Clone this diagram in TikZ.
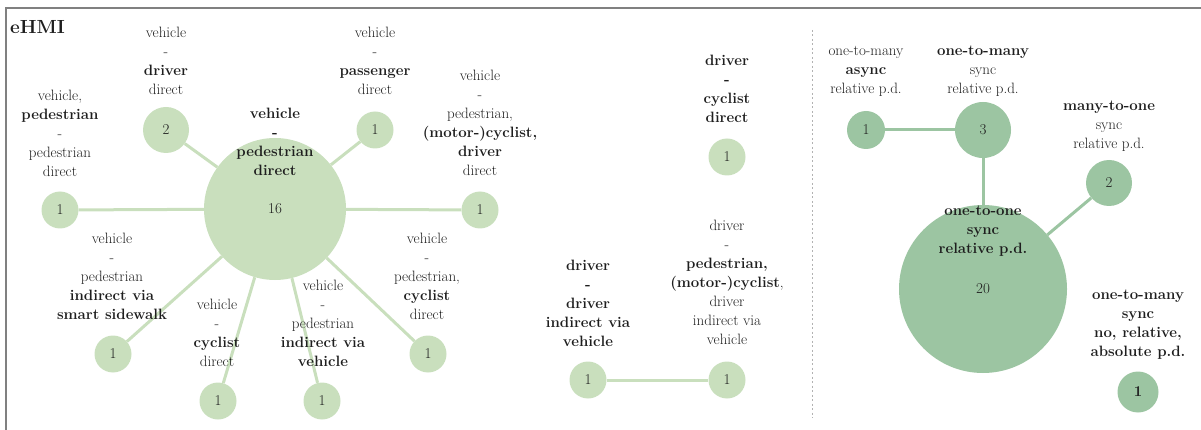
\documentclass[tikz,border=0pt]{standalone}
\usepackage{fontspec}
\usetikzlibrary{positioning}
\definecolor{paleg}{RGB}{201,223,189}
\definecolor{sageg}{RGB}{156,197,162}
\definecolor{txtg}{RGB}{30,30,30}

\begin{document}
\begin{tikzpicture}[x=1pt,y=-1pt,
    bub/.style={circle,fill=paleg,inner sep=0pt,minimum size=#1,text=txtg,font=\fontsize{15}{19}\selectfont},
    dbub/.style={bub=#1,fill=sageg},
    lbl/.style={anchor=north,align=center,inner sep=0pt,text=txtg,font=\fontsize{15}{19}\selectfont},
    link/.style={draw=paleg,line width=3pt},
    dlink/.style={draw=sageg,line width=3pt}]
    % Frame
    \useasboundingbox (0,0) rectangle (1201,430);
    \draw[gray,line width=1.5pt] (6,430) -- (6,8) -- (1201,8);
    \draw[gray!60,line width=0.8pt,dash pattern=on 2pt off 2.5pt] (812,30) -- (812,418);
    \node[anchor=north west,inner sep=0pt,text=txtg,font=\fontsize{19}{19}\selectfont\bfseries] (title) at (10,20) {eHMI};

    % Vertices
    \node[bub=142pt] (vp) at (275,209) {16};
    \node[bub=46pt] (vd) at (166,130) {2};
    \node[bub=37pt] (pp) at (60,210) {1};
    \node[bub=37pt] (vpass) at (375,130) {1};
    \node[bub=37pt] (vall) at (480,210) {1};
    \node[bub=37pt] (vss) at (113,354) {1};
    \node[bub=37pt] (vc) at (218,401) {1};
    \node[bub=37pt] (viv) at (322,401) {1};
    \node[bub=37pt] (vpc) at (428,354) {1};

    \node[bub=37pt] (dc) at (727,157) {1};
    \node[bub=37pt] (dd) at (588,380) {1};
    \node[bub=37pt] (dp) at (727,380) {1};

    \node[dbub=38pt] (oma) at (866,130) {1};
    \node[dbub=56pt] (oms) at (983,130) {3};
    \node[dbub=46pt] (mos) at (1109,183) {2};
    \node[dbub=168pt] (oos) at (983,289) {20};
    \node[dbub=41pt] (omn) at (1138,392) {\textbf{1}};

    % Edges
    \foreach \s in {vd,pp,vpass,vall,vss,vc,viv,vpc} \draw[link] (vp) -- (\s);
    \draw[link] (dd) -- (dp);
    \draw[dlink] (oma) -- (oms);
    \foreach \s in {oms,mos} \draw[dlink] (oos) -- (\s);

    % Labels
    \node[lbl] (vp-lbl) at (275,108) {\textbf{vehicle}\\\textbf{-}\\\textbf{pedestrian}\\\textbf{direct}};
    \node[lbl] (vd-lbl) at (166,27) {vehicle\\-\\\textbf{driver}\\direct};
    \node[lbl] (pp-lbl) at (60,90) {vehicle,\\\textbf{pedestrian}\\-\\pedestrian\\direct};
    \node[lbl] (vpass-lbl) at (375,27) {vehicle\\-\\\textbf{passenger}\\direct};
    \node[lbl] (vall-lbl) at (480,70) {vehicle\\-\\pedestrian,\\\textbf{(motor-)cyclist,}\\\textbf{driver}\\direct};
    \node[lbl] (vss-lbl) at (112,233) {vehicle\\-\\pedestrian\\\textbf{indirect via}\\\textbf{smart sidewalk}};
    \node[lbl] (vc-lbl) at (217,299) {vehicle\\-\\\textbf{cyclist}\\direct};
    \node[lbl] (viv-lbl) at (323,280) {vehicle\\-\\pedestrian\\\textbf{indirect via}\\\textbf{vehicle}};
    \node[lbl] (vpc-lbl) at (427,233) {vehicle\\-\\pedestrian,\\\textbf{cyclist}\\direct};

    \node[lbl] (dc-lbl) at (727,55) {\textbf{driver}\\\textbf{-}\\\textbf{cyclist}\\\textbf{direct}};
    \node[lbl] (dd-lbl) at (588,260) {\textbf{driver}\\\textbf{-}\\\textbf{driver}\\\textbf{indirect via}\\\textbf{vehicle}};
    \node[lbl] (dp-lbl) at (727,220) {driver\\-\\\textbf{pedestrian,}\\\textbf{(motor-)cyclist},\\driver\\indirect via\\vehicle};

    \node[lbl] (oma-lbl) at (866,46) {one-to-many\\\textbf{async}\\relative p.d.};
    \node[lbl] (oms-lbl) at (983,46) {\textbf{one-to-many}\\sync\\relative p.d.};
    \node[lbl] (mos-lbl) at (1109,101) {\textbf{many-to-one}\\sync\\relative p.d.};
    \node[lbl] (oos-lbl) at (983,206) {\textbf{one-to-one}\\\textbf{sync}\\\textbf{relative p.d.}};
    \node[lbl] (omn-lbl) at (1138,290) {\textbf{one-to-many}\\\textbf{sync}\\\textbf{no, relative,}\\\textbf{absolute p.d.}};
\end{tikzpicture}
\end{document}
